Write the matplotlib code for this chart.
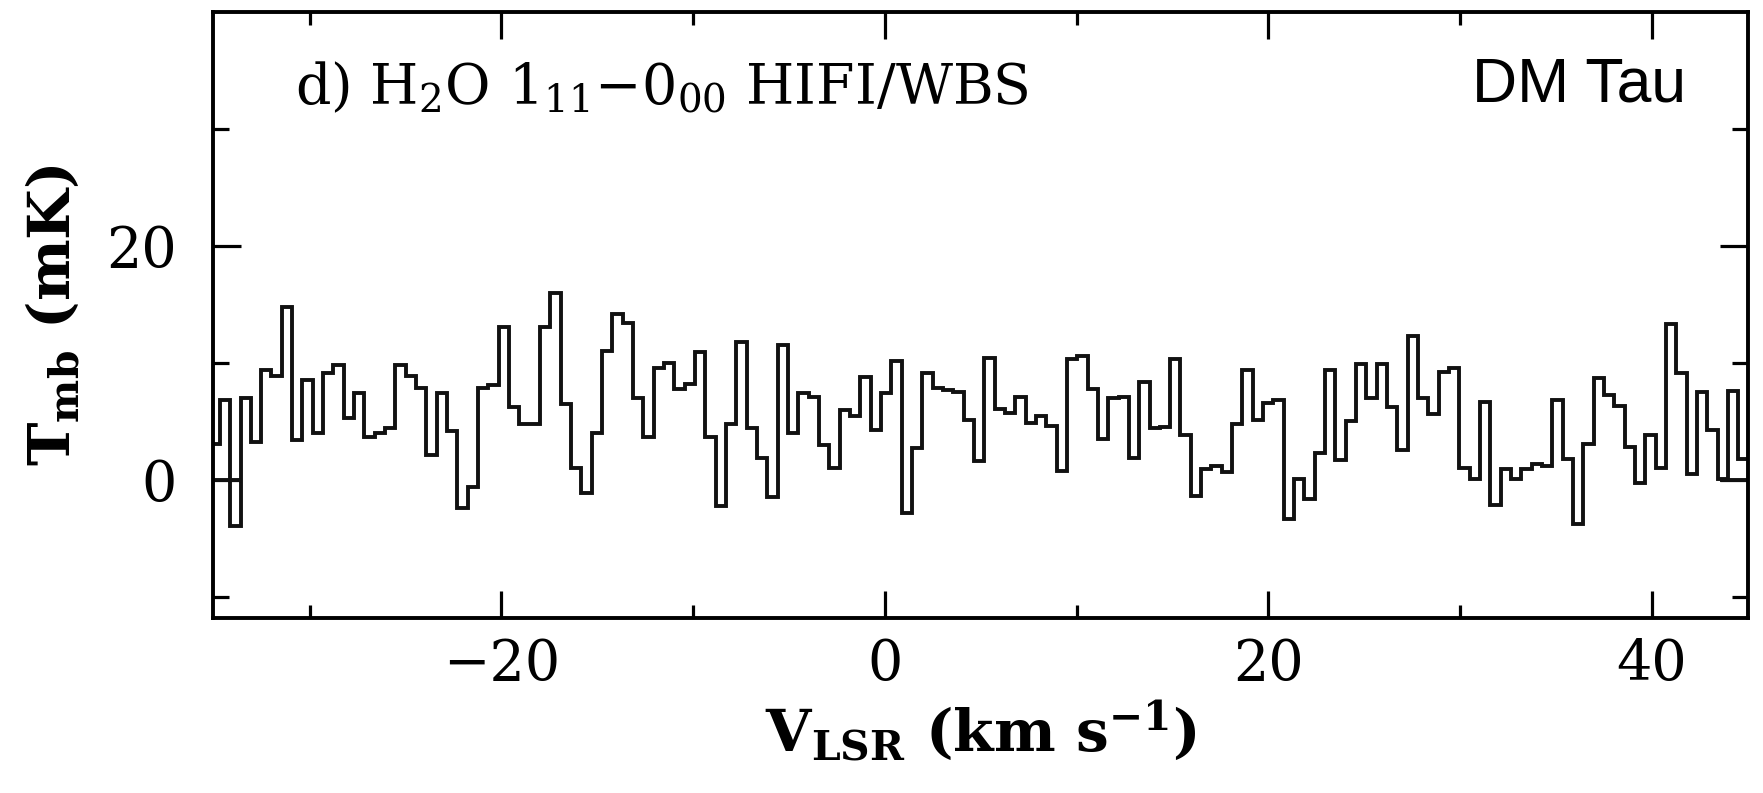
import matplotlib
matplotlib.use("Agg")
import matplotlib.pyplot as plt
import numpy as np

plt.rcParams['font.family'] = 'DejaVu Serif'
plt.rcParams['mathtext.fontset'] = 'dejavuserif'

# spectrum (mK), one value per 1 MHz channel
tmb = [3.1,
       6.8, -3.9, 7.0, 3.2, 9.4, 8.9, 14.8, 3.4, 8.5, 4.0, 9.1, 9.8, 5.3, 7.4, 3.7,
       4.0, 4.4, 9.8, 8.9, 7.9, 2.1, 7.4, 4.2, -2.4, -0.6, 7.9, 8.1, 13.1, 6.2,
       4.8, 4.8, 13.1, 16.0, 6.5, 1.0, -1.1, 4.0, 11.0, 14.2, 13.4, 7.0, 3.7, 9.6, 10.0,
       7.8, 8.2, 10.9, 3.7, -2.2, 4.8, 11.8, 4.4, 1.9, -1.5, 11.5, 4.0, 7.4, 7.1, 3.0,
       1.0, 6.0, 5.5, 8.8, 4.3, 7.4, 10.2, -2.8, 2.7, 9.1, 7.9, 7.7, 7.5, 5.1, 1.6,
       10.4, 6.1, 5.7, 7.1, 4.9, 5.5, 4.6, 0.8, 10.3, 10.6, 7.8, 3.5, 7.0, 7.1, 1.9,
       8.4, 4.4, 4.5, 10.3, 3.8, -1.4, 0.9, 1.2, 0.7, 4.8, 9.4, 5.1, 6.6, 6.8, -3.3,
       0.1, -1.6, 2.3, 9.4, 1.7, 5.0, 9.9, 7.0, 9.9, 6.2, 2.6, 12.3, 7.0, 5.6, 9.2,
       9.6, 1.0, 0.1, 6.7, -2.1, 0.9, 0.1, 0.9, 1.4, 1.2, 6.8, 1.8, -3.8, 3.1,
       8.7, 7.3, 6.3, 2.8, -0.3, 3.8, 1.0, 13.3, 9.1, 0.5, 7.5, 4.3, 0.1, 7.6,
       1.8]
v_first_edge = -35.23   # km/s
dv = 0.5388             # channel width, km/s
# short zero-level pieces at both ends of the spectrum
zero_left = [-35.05, -33.65]
zero_right = [43.65, 45.02]

edges = v_first_edge + dv * np.arange(len(tmb) + 1)

fig = plt.figure(figsize=(17.63, 7.93), dpi=100)
ax = fig.add_axes([0.1208, 0.2207, 0.8707, 0.7642])

ax.stairs(tmb, edges, baseline=None, color='#111111', lw=2.8)
ax.plot(zero_left, [0, 0], color='#111111', lw=2.8)
ax.plot(zero_right, [0, 0], color='#111111', lw=2.8)

ax.set_xlim(-35.05, 45.02)
ax.set_ylim(-11.8, 40.0)
ax.set_xticks([-20, 0, 20, 40])
ax.set_xticks([-30, -10, 10, 30], minor=True)
ax.set_yticks([0, 20])
ax.set_yticks([-10, 10, 30], minor=True)
ax.set_xticklabels(['\u221220', '0', '20', '40'])

for s in ax.spines.values():
    s.set_linewidth(2.8)
ax.tick_params(which='both', direction='in', top=True, right=True, width=2.3,
               labelsize=40)
ax.tick_params(axis='x', which='major', length=19.5, pad=14)
ax.tick_params(axis='x', which='minor', length=9.5)
ax.tick_params(axis='y', which='major', length=20, pad=26)
ax.tick_params(axis='y', which='minor', length=11.5)

ax.set_xlabel(r'$\mathbf{V_{LSR}}$ (km s$^{\mathbf{-1}}$)', fontsize=42,
              fontweight='bold', labelpad=4)
ax.set_ylabel(r'$\mathbf{T_{mb}}$ (mK)', fontsize=42, fontweight='bold',
              labelpad=18)

ax.text(0.0534, 0.8465, r'd) H$_2$O 1$_{11}$$-$0$_{00}$ HIFI/WBS',
        transform=ax.transAxes, fontsize=40, ha='left', va='baseline')
ax.text(0.960, 0.8515, 'DM Tau', transform=ax.transAxes, fontsize=45,
        family='Liberation Sans', ha='right', va='baseline')

fig.savefig('out.png', dpi=100)
